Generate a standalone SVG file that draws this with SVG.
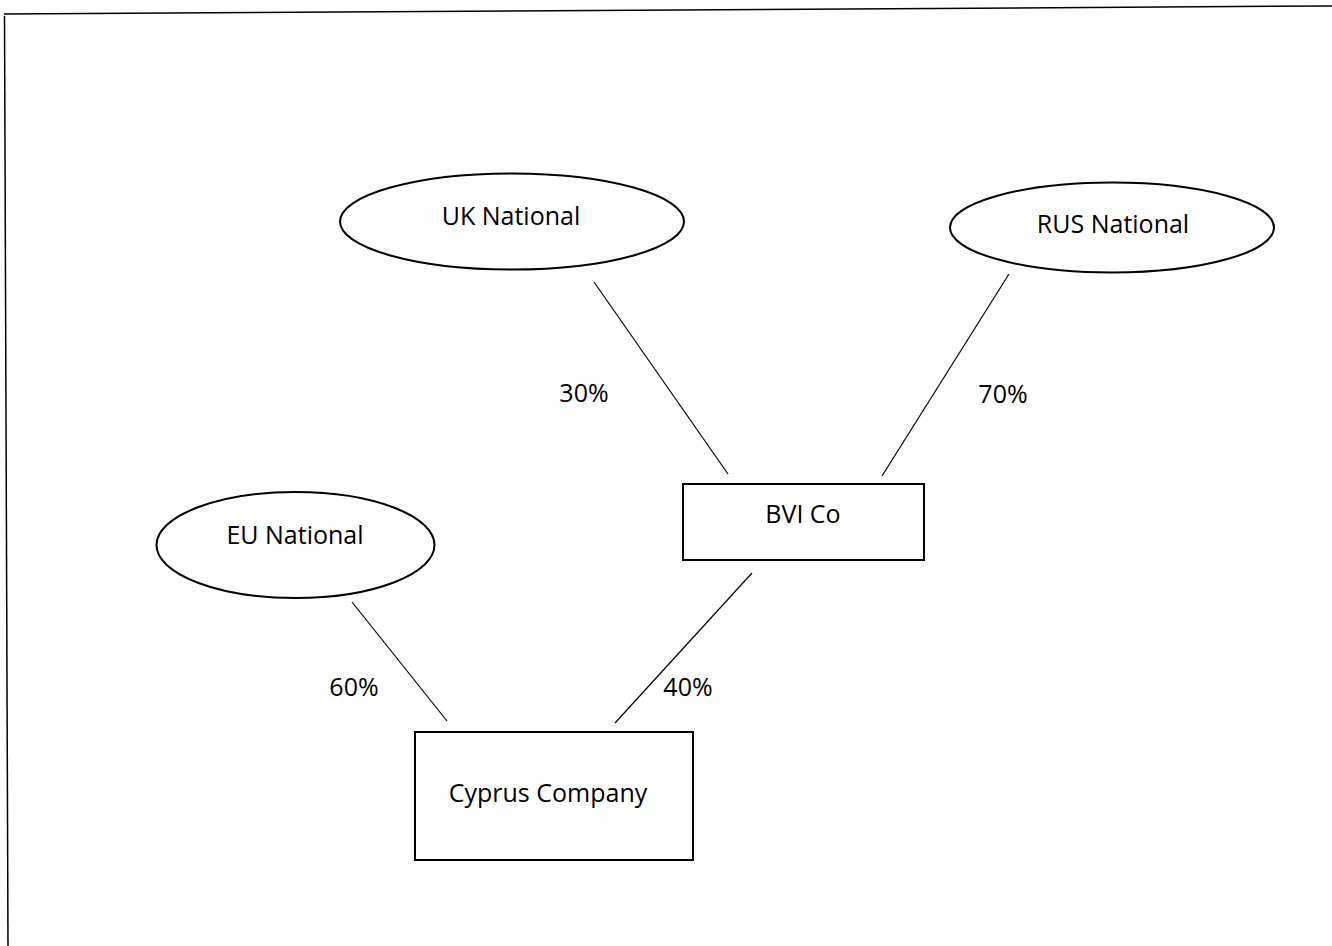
<svg xmlns="http://www.w3.org/2000/svg" width="1332" height="946" viewBox="0 0 1332 946">
<style>
.shape{fill:#fff;stroke:#000;stroke-width:2}
.conn{stroke:#000;stroke-width:1.2;fill:none}
.border{stroke:#000;stroke-width:1.5;fill:none}
text{font-family:"Open Sans","Liberation Sans",sans-serif;font-size:25px;fill:#000}
.c{text-anchor:middle}
</style>
<rect width="1332" height="946" fill="#fff"/>
<g id="border">
<line class="border" x1="4" y1="14" x2="1332" y2="6"/>
<line class="border" x1="4.5" y1="16" x2="8" y2="946"/>
</g>
<g id="connectors">
<line class="conn" x1="594" y1="282" x2="728" y2="474"/>
<line class="conn" x1="1009" y1="274" x2="882" y2="476"/>
<line class="conn" x1="352" y1="602" x2="447" y2="721"/>
<line class="conn" x1="752" y1="573" x2="615" y2="723"/>
<text x="584" y="402" class="c">30%</text>
<text x="1003" y="403" class="c">70%</text>
<text x="354" y="696" class="c">60%</text>
<text x="688" y="696" class="c">40%</text>
</g>
<g id="uk">
<ellipse class="shape" cx="512" cy="221.5" rx="172" ry="48"/>
<text x="511" y="225" class="c">UK National</text>
</g>
<g id="rus">
<ellipse class="shape" cx="1112" cy="227.5" rx="162" ry="45"/>
<text x="1113" y="233" class="c">RUS National</text>
</g>
<g id="eu">
<ellipse class="shape" cx="295.5" cy="545" rx="139" ry="53"/>
<text x="295" y="544" class="c">EU National</text>
</g>
<g id="bvi">
<rect class="shape" x="683" y="484" width="241" height="76"/>
<text x="803" y="523" class="c">BVI Co</text>
</g>
<g id="cyprus">
<rect class="shape" x="415" y="732" width="278" height="128"/>
<text x="548" y="802" class="c">Cyprus Company</text>
</g>
</svg>
